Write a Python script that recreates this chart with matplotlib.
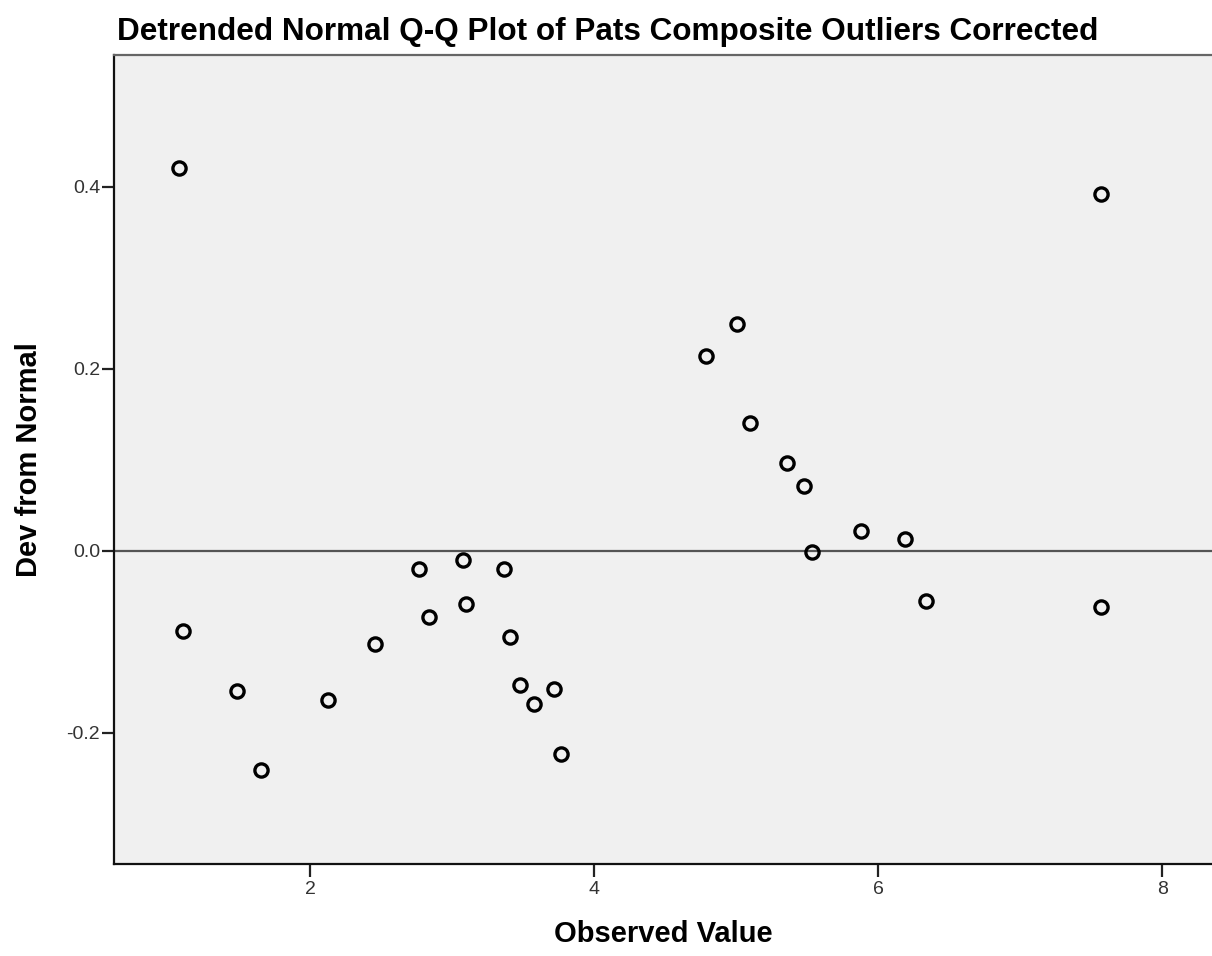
import matplotlib.pyplot as plt

# observed values and their deviation from the normal line
observed = [1.077, 1.106, 1.486, 1.655, 2.127, 2.458, 2.768, 2.838, 3.077,
            3.099, 3.366, 3.408, 3.479, 3.577, 3.718, 3.768, 4.789, 5.007,
            5.099, 5.359, 5.479, 5.535, 5.880, 6.190, 6.338, 7.570, 7.570]
dev_from_normal = [0.421, -0.088, -0.154, -0.241, -0.164, -0.102, -0.020,
                   -0.073, -0.010, -0.058, -0.020, -0.095, -0.147, -0.168,
                   -0.152, -0.223, 0.214, 0.249, 0.141, 0.097, 0.071, -0.001,
                   0.022, 0.013, -0.055, 0.392, -0.062]

x_ticks = [2, 4, 6, 8]
y_ticks = [-0.2, 0.0, 0.2, 0.4]

plt.rcParams['font.family'] = ['Liberation Sans', 'DejaVu Sans']

fig = plt.figure(figsize=(12.12, 9.56), dpi=100)
ax = fig.add_axes([0.094, 0.0962, 0.906, 0.8463])
ax.set_facecolor('#f0f0f0')

ax.axhline(0.0, color='#555555', linewidth=1.6, zorder=1)
ax.plot(observed, dev_from_normal, linestyle='none', marker='o',
        markersize=9.5, markerfacecolor='none', markeredgecolor='black',
        markeredgewidth=2.4, zorder=3)

ax.set_xlim(0.62, 8.35)
ax.set_ylim(-0.344, 0.545)
ax.set_xticks(x_ticks)
ax.set_xticklabels([str(t) for t in x_ticks])
ax.set_yticks(y_ticks)
ax.set_yticklabels(['%.1f' % t for t in y_ticks])
ax.tick_params(axis='both', labelsize=14, labelcolor='#333333',
               color='#222222', width=1.6, length=9)
ax.tick_params(axis='x', pad=3)
ax.tick_params(axis='y', pad=1)

for side in ['left', 'bottom']:
    ax.spines[side].set_color('#111111')
    ax.spines[side].set_linewidth(1.6)
ax.spines['top'].set_color('#666666')
ax.spines['top'].set_linewidth(1.6)
ax.spines['right'].set_visible(False)

ax.set_xlabel('Observed Value', fontsize=21, fontweight='bold', labelpad=16)
ax.set_ylabel('Dev from Normal', fontsize=21, fontweight='bold', labelpad=17)
fig.text(0.0965, 0.958, 'Detrended Normal Q-Q Plot of Pats Composite Outliers Corrected',
         fontsize=22.7, fontweight='bold', ha='left', va='baseline')

fig.savefig('out.png', dpi=100)
